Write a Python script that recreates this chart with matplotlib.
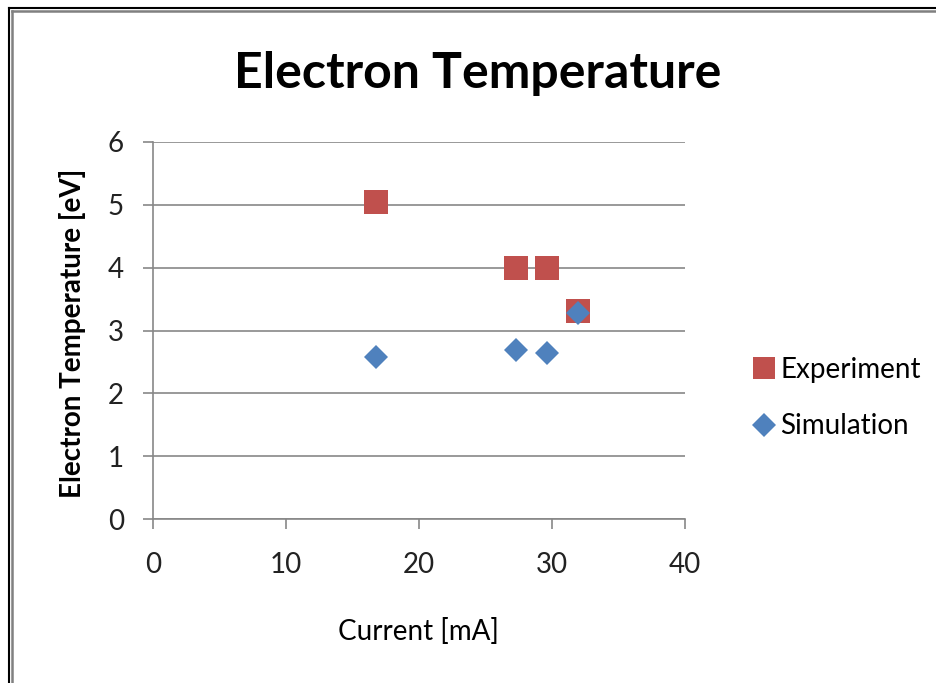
import matplotlib.pyplot as plt
from matplotlib.lines import Line2D

plt.rcParams["font.family"] = ["Lato", "DejaVu Sans"]

# data
exp_current = [16.8, 27.3, 29.6, 31.95]
exp_temp = [5.05, 4.0, 4.0, 3.31]
sim_current = [16.8, 27.3, 29.6, 31.95]
sim_temp = [2.58, 2.69, 2.64, 3.28]

x_ticks = [0, 10, 20, 30, 40]
y_ticks = [0, 1, 2, 3, 4, 5, 6]

red = "#C0504D"
blue = "#4F81BD"
grid_gray = "#878787"

fig = plt.figure(figsize=(9.37, 6.83), dpi=100)
ax = fig.add_axes([153 / 937, 1 - 519 / 683, (685 - 153) / 937, (519 - 142) / 683])

ax.plot(exp_current, exp_temp, linestyle="none", marker="s", markersize=17,
        color=red, markeredgewidth=0, label="Experiment", zorder=3)
ax.plot(sim_current, sim_temp, linestyle="none", marker="D", markersize=12.5,
        color=blue, markeredgewidth=0, label="Simulation", zorder=4)

ax.set_xlim(0, 40)
ax.set_ylim(0, 6)
ax.set_xticks(x_ticks)
ax.set_yticks(y_ticks)
ax.yaxis.grid(True, color=grid_gray, linewidth=1.2)
ax.set_axisbelow(True)

for side in ["top", "right"]:
    ax.spines[side].set_visible(False)
for side in ["left", "bottom"]:
    ax.spines[side].set_color(grid_gray)
    ax.spines[side].set_linewidth(1.2)

ax.tick_params(axis="x", direction="out", length=7, width=1.2, color=grid_gray,
               pad=17, labelsize=20, labelcolor="#222222")
ax.tick_params(axis="y", direction="out", length=7, width=1.2, color=grid_gray,
               pad=14, labelsize=20, labelcolor="#222222")

fig.text(478 / 937, 1 - 73 / 683, "Electron Temperature", fontsize=36,
         fontweight="bold", ha="center", va="center")
fig.text(418 / 937, 1 - 632 / 683, "Current [mA]", fontsize=20,
         ha="center", va="center")
fig.text(73 / 937, 1 - 333 / 683, "Electron Temperature [eV]", fontsize=20,
         fontweight="bold", rotation=90, ha="center", va="center")

fig.legend(loc="center left", bbox_to_anchor=(740 / 937, 1 - 398 / 683),
           frameon=False, fontsize=20, markerscale=0.95, handlelength=0.9,
           handletextpad=0.15, labelspacing=1.1, borderaxespad=0)

# frame edges visible on the top and left of the picture
fig.add_artist(Line2D([9 / 937, 9 / 937], [0, 1 - 8 / 683], color="black",
                      linewidth=1.5, transform=fig.transFigure))
fig.add_artist(Line2D([9 / 937, 1], [1 - 8 / 683, 1 - 8 / 683], color="black",
                      linewidth=1.5, transform=fig.transFigure))
fig.add_artist(Line2D([12 / 937, 12 / 937], [0, 1 - 11 / 683], color="#808080",
                      linewidth=1.8, transform=fig.transFigure))
fig.add_artist(Line2D([12 / 937, 1], [1 - 11 / 683, 1 - 11 / 683], color="#808080",
                      linewidth=1.8, transform=fig.transFigure))

fig.savefig("out.png", dpi=100)
